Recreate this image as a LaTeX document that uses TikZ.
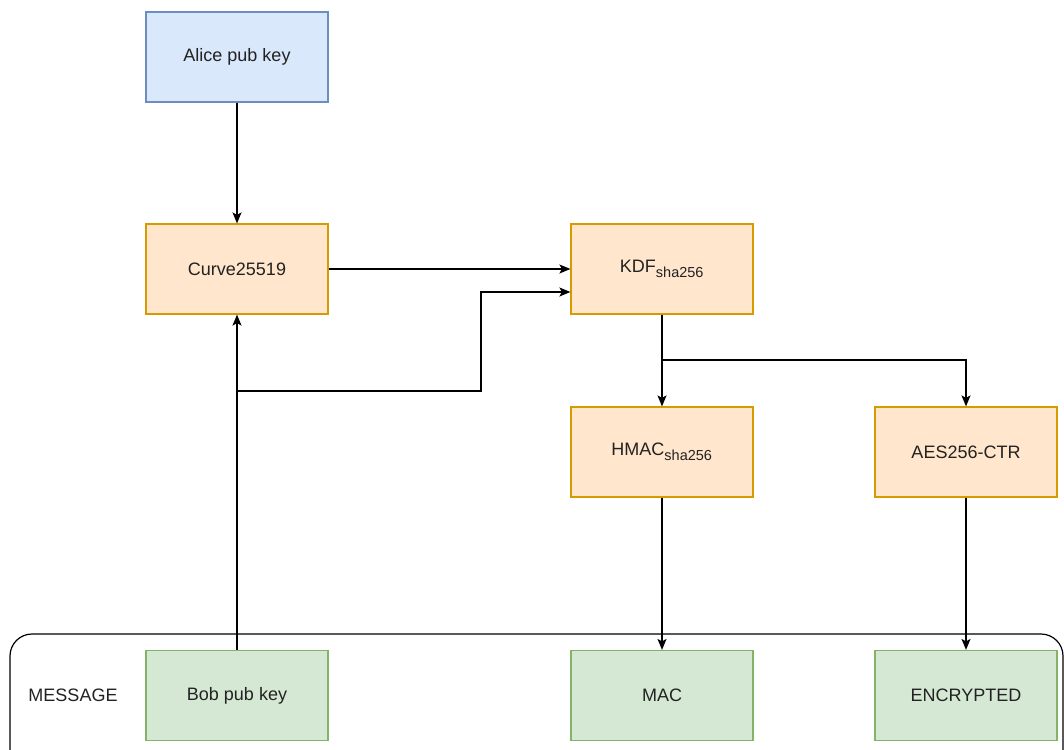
\documentclass[tikz,border=0pt]{standalone}
\usepackage{fontspec}
\setmainfont{Liberation Sans}
\usetikzlibrary{arrows.meta}
\definecolor{bluefill}{HTML}{DAE8FC}
\definecolor{bluedraw}{HTML}{6C8EBF}
\definecolor{orangefill}{HTML}{FFE6CC}
\definecolor{orangedraw}{HTML}{D79B00}
\definecolor{greenfill}{HTML}{D5E8D4}
\definecolor{greendraw}{HTML}{82B366}
\definecolor{ink}{HTML}{222222}
\tikzset{
  box/.style={draw, line width=1.2pt, minimum width=182pt, minimum height=90pt,
    inner sep=0pt, font=\fontsize{18}{21}\selectfont, text=ink},
  keybox/.style={box, fill=bluefill, draw=bluedraw},
  opbox/.style={box, fill=orangefill, draw=orangedraw},
  outbox/.style={box, fill=greenfill, draw=greendraw},
  link/.style={draw=black, line width=1.5pt, -{Stealth[length=11pt,width=9pt,inset=2.5pt]}}
}
\newcommand{\sub}[1]{\textsubscript{\fontsize{14.5}{16}\selectfont #1}}
\begin{document}
\begin{tikzpicture}[x=1pt,y=-1pt]
\useasboundingbox (0,0) rectangle (1064,749);
\begin{scope}
\clip (0,0) rectangle (1064,749);
% message container, open at the bottom edge
\draw[line width=1.2pt, rounded corners=22pt] (10,634) rectangle (1063,775);
\end{scope}
\node[font=\fontsize{18}{21}\selectfont, text=ink] (msg) at (73,695) {MESSAGE};

\node[keybox] (alice) at (237,57) {Alice pub key};
\node[opbox] (curve) at (237,269) {Curve25519};
\node[opbox] (kdf) at (662,269) {KDF\sub{sha256}};
\node[opbox] (hmac) at (662,452) {HMAC\sub{sha256}};
\node[opbox] (aes) at (966,452) {AES256-CTR};
\node[outbox] (bob) at (237,695.5) {Bob pub key};
\node[outbox] (mac) at (662,695.5) {MAC};
\node[outbox] (enc) at (966,695.5) {ENCRYPTED};

\coordinate (fork) at (237,391);
\coordinate (bend) at (481,391);
\coordinate (split) at (662,360);

\draw[link] (alice.south) -- (curve.north);
\draw[link] (curve.east) -- (kdf.west);
\draw[link] (bob.north) -- (curve.south);
\draw[link] (fork) -- (bend) |- ([yshift=-23pt]kdf.west);
\draw[link] (kdf.south) -- (hmac.north);
\draw[link] (split) -| (aes.north);
\draw[link] (hmac.south) -- (mac.north);
\draw[link] (aes.south) -- (enc.north);
\end{tikzpicture}
\end{document}
